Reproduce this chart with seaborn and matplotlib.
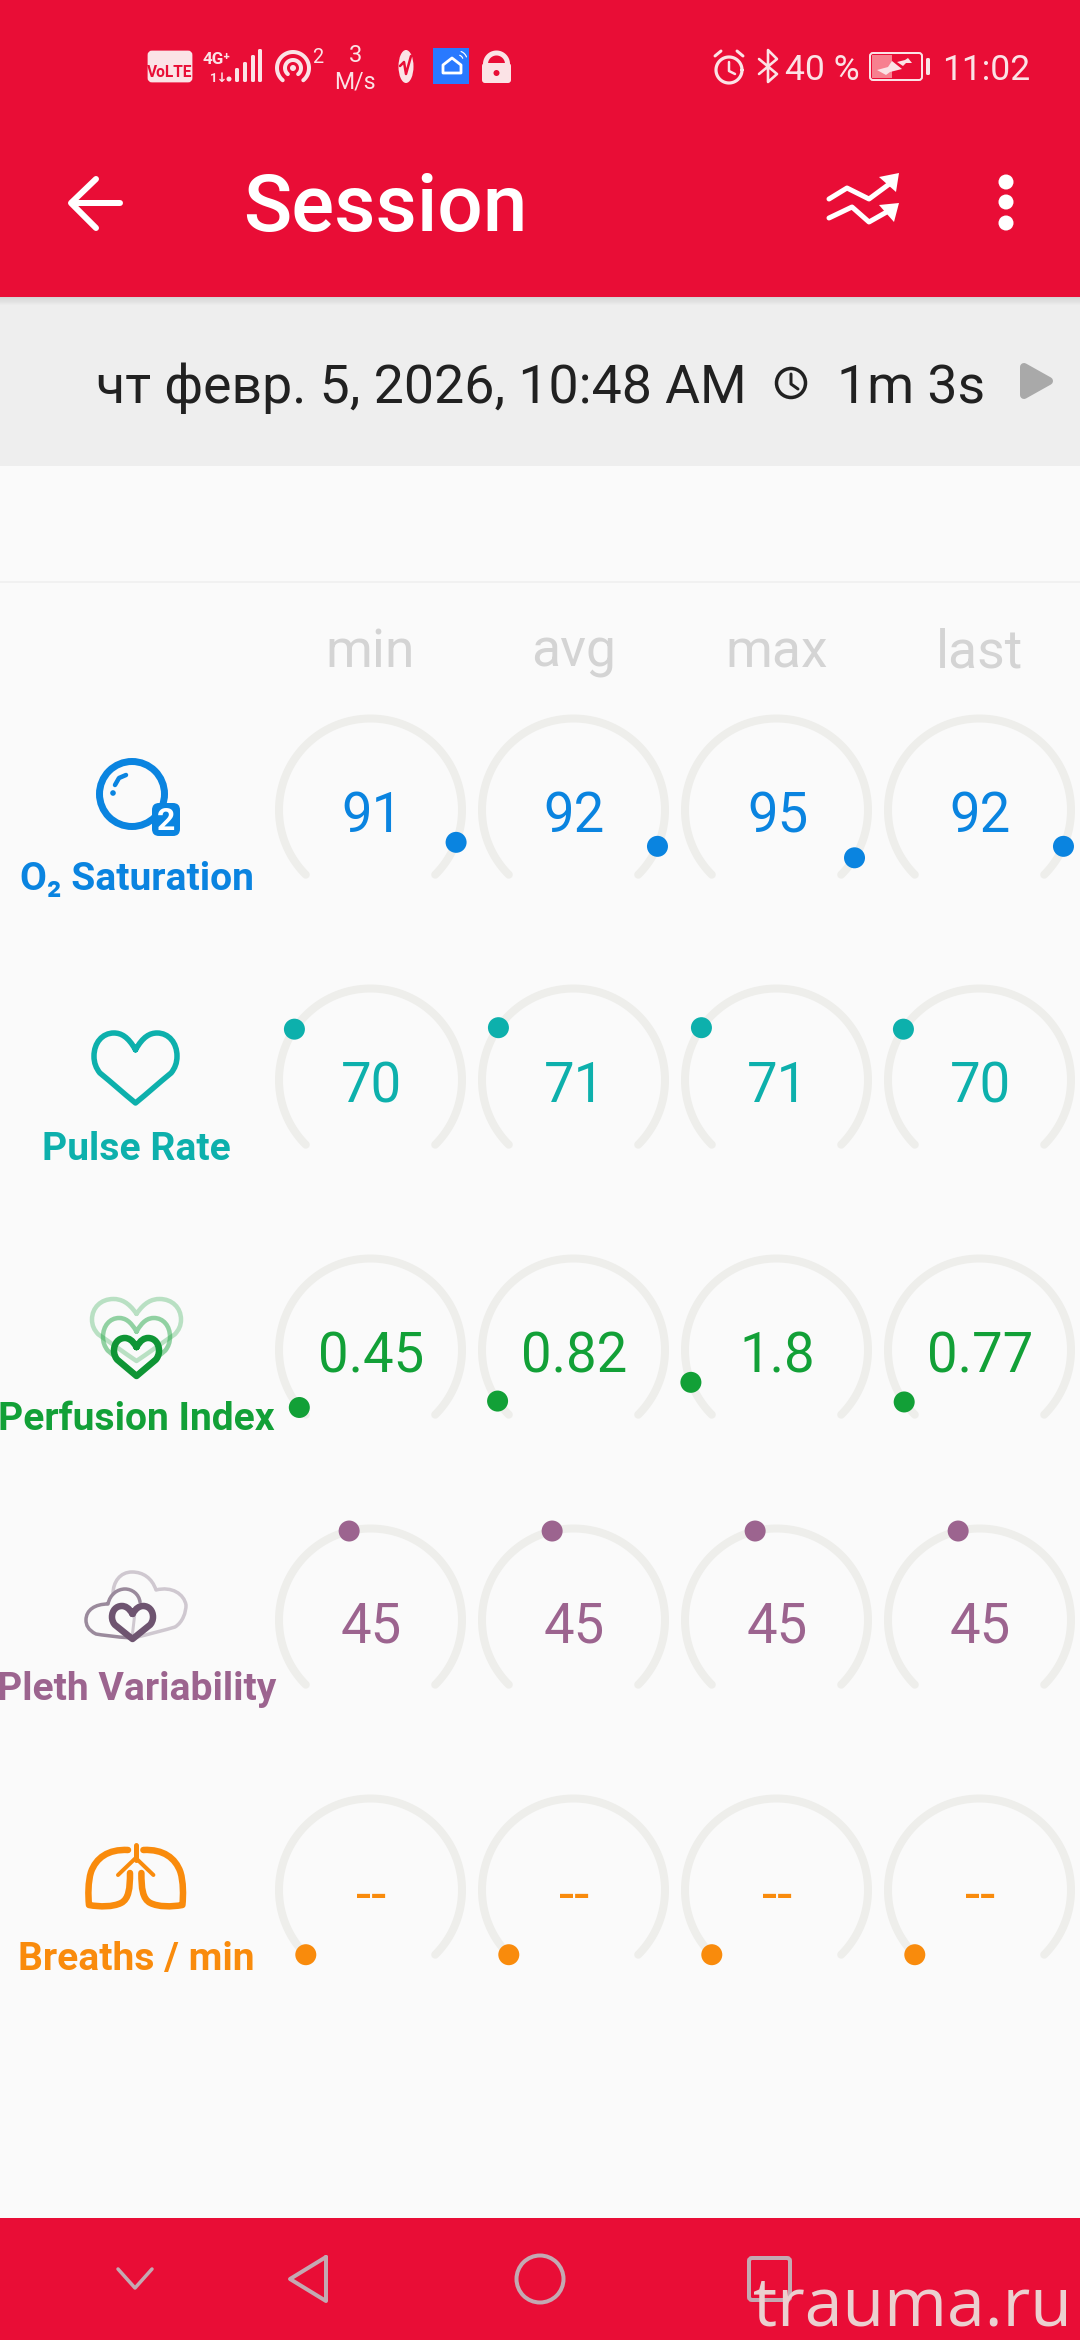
import numpy as np
import pandas as pd
import matplotlib
matplotlib.use("Agg")
import matplotlib.pyplot as plt
import seaborn as sns
from matplotlib.path import Path
from matplotlib.patches import PathPatch, Rectangle, Circle, FancyBboxPatch, Polygon, Ellipse

# values
stats = ["min", "avg", "max", "last"]
metrics = ["O\u2082 Saturation", "Pulse Rate", "Perfusion Index", "Pleth Variability", "Breaths / min"]
o2_values = [91, 92, 95, 92]
pulse_values = [70, 71, 71, 70]
perfusion_values = [0.45, 0.82, 1.8, 0.77]
pleth_values = [45, 45, 45, 45]
breath_values = [np.nan, np.nan, np.nan, np.nan]
scale_max = [100, 240, 20, 100, 60]
metric_colors = ["#0A84E0", "#0DB0AC", "#12A037", "#9C648F", "#F98B0C"]

RED = "#E90D36"
PALE = "#FBE3E6"

sns.set_theme(style="white")
plt.rcParams["font.family"] = ["Roboto", "DejaVu Sans"]

fig = plt.figure(figsize=(10.8, 23.4), dpi=100, facecolor="#FAFAFA")
ax = fig.add_axes([0, 0, 1, 1])
ax.axis("off")

# gauge layout in pixels
col_x = [370.5, 573.5, 776.5, 979.5]
row_y = [810, 1080, 1350, 1620, 1890]
radius = 91.5


def px(size):
    return size * 0.72


def angle_for(frac):
    # 270 degree dial, starts lower left and runs clockwise
    return np.deg2rad(225 - 270 * frac)


def shape(verts, color, lw=5, alpha=1, z=5, fill=False):
    codes = [Path.MOVETO] + [Path.CURVE4] * (len(verts) - 1)
    ax.add_patch(PathPatch(Path(verts, codes), fc=color if fill else "none", ec=color, lw=px(lw),
                           alpha=alpha, zorder=z, capstyle="round", joinstyle="round"))


def line(pts, color, lw=5, alpha=1, z=5):
    pts = np.array(pts)
    ax.plot(pts[:, 0], pts[:, 1], color=color, lw=px(lw), alpha=alpha, zorder=z,
            solid_capstyle="round", solid_joinstyle="round")


def ring(cx, cy, r, start, end, color, lw, z=5):
    # angles in degrees, counted the usual way on screen
    a = np.deg2rad(np.linspace(start, end, 60))
    line(np.column_stack([cx + r * np.cos(a), cy - r * np.sin(a)]), color, lw, z=z)


def heart(cx, top, w, h, color, lw=5, alpha=1, z=5):
    half = [(0, .24), (-.18, .05), (-.35, 0), (-.52, 0), (-.8, 0), (-1, .14), (-1, .33),
            (-1, .43), (-.95, .5), (-.86, .57), (-.57, .71), (-.29, .86), (0, 1)]
    right = [(-x, y) for x, y in half[::-1]][1:]
    verts = [(cx + x * w / 2, top + y * h) for x, y in half + right]
    shape(verts, color, lw, alpha, z)


# screen blocks
ax.add_patch(Rectangle((0, 0), 1080, 297, fc=RED, ec="none", zorder=1))
ax.add_patch(Rectangle((0, 297), 1080, 169, fc="#EEEEEE", ec="none", zorder=1))
for i in range(8):
    ax.add_patch(Rectangle((0, 297 + i), 1080, 1, fc="#000000", alpha=0.10 * (1 - i / 8), ec="none", zorder=2))
ax.add_patch(Rectangle((0, 581), 1080, 2, fc="#F1F1F1", ec="none", zorder=1))
ax.add_patch(Rectangle((0, 2218), 1080, 122, fc=RED, ec="none", zorder=1))

# status bar, left side
ax.add_patch(FancyBboxPatch((149, 52), 42, 29, boxstyle="round,pad=0,rounding_size=3", fc=PALE, ec=PALE, lw=2, zorder=3))
ax.text(170, 72.5, "VoLTE", color=RED, fontsize=px(15.5), fontweight="bold", ha="center", va="center", zorder=4)
ax.text(203, 64, "4G\u207a", color=PALE, fontsize=px(17), fontweight="bold", ha="left", va="baseline", zorder=4)
ax.text(210, 82, "1\u2193", color=PALE, fontsize=px(13), fontweight="bold", ha="left", va="baseline", zorder=4)
ax.add_patch(Circle((229, 79), 2.5, fc=PALE, ec="none", zorder=4))
for bar_x, bar_top in zip([237, 245, 253, 260], [68, 62, 55, 49]):
    ax.add_patch(FancyBboxPatch((bar_x - 2, bar_top), 4, 82 - bar_top, boxstyle="round,pad=0,rounding_size=1.5",
                                fc=PALE, ec="none", zorder=4))
ring(293, 68, 16, 230, -50, PALE, 4, z=4)
ring(293, 68, 8, 230, -50, PALE, 4, z=4)
ax.add_patch(Circle((293, 68), 3, fc=PALE, ec="none", zorder=4))
ax.text(318, 63, "2", color=PALE, fontsize=px(20), ha="center", va="baseline", zorder=4)
ax.text(355, 62, "3", color=PALE, fontsize=px(23.5), ha="center", va="baseline", zorder=4)
ax.text(355, 89, "M/s", color=PALE, fontsize=px(23), ha="center", va="baseline", zorder=4)
ax.add_patch(Ellipse((406, 66.5), 15, 33, fc=PALE, ec="none", zorder=4))
line([(400, 66), (404, 62), (406, 74), (411, 56)], RED, 2.5, z=5)
ax.add_patch(Rectangle((433, 48), 36, 36, fc="#2979FF", ec="none", zorder=4))
ax.add_patch(Polygon([(443, 73), (443, 65), (452, 58), (461, 65), (461, 73)], closed=True, fc="#2979FF", ec="white",
                     lw=px(2.8), joinstyle="round", zorder=5))
ring(458, 60, 5, 20, 70, "white", 1.2, z=5)
ring(458, 60, 9, 20, 70, "white", 1.2, z=5)
ax.add_patch(FancyBboxPatch((482, 63), 29, 20, boxstyle="round,pad=0,rounding_size=3", fc=PALE, ec="none", zorder=4))
ring(496.5, 64, 11, 0, 180, PALE, 5, z=4)
ax.add_patch(Circle((496.5, 73), 3, fc=RED, ec="none", zorder=5))

# status bar, right side
ring(729, 70, 13, 0, 360, PALE, 3.2, z=4)
line([(729, 62), (729, 71), (735, 74)], PALE, 2.5)
line([(715, 56), (721, 51)], PALE, 3)
line([(743, 56), (737, 51)], PALE, 3)
line([(759, 59), (777, 74), (768, 82), (768, 50), (777, 59), (759, 74)], PALE, 2.6)
ax.text(785, 80, "40 %", color=PALE, fontsize=px(35.5), ha="left", va="baseline", zorder=4)
ax.add_patch(FancyBboxPatch((870, 53), 52, 27, boxstyle="round,pad=0,rounding_size=3", fc="none", ec=PALE, lw=px(2), zorder=4))
ax.add_patch(Rectangle((872, 55), 20, 23, fc="#F7808F", ec="none", zorder=4))
ax.add_patch(Polygon([(877, 70), (888, 67), (892, 61), (902, 69), (890, 72), (886, 75)], closed=True, fc=PALE, ec="none", zorder=5))
ax.add_patch(Polygon([(897, 62), (905, 60), (908, 58), (912, 63), (906, 63), (903, 66)], closed=True, fc=PALE, ec="none", zorder=5))
ax.add_patch(FancyBboxPatch((926, 58), 4, 17, boxstyle="round,pad=0,rounding_size=1.5", fc=PALE, ec="none", zorder=4))
ax.text(942, 80, "11:02", color=PALE, fontsize=px(35.5), ha="left", va="baseline", zorder=4)

# toolbar
line([(120, 203), (72, 203)], "white", 6)
line([(96, 179), (71, 203), (96, 228)], "white", 6)
ax.text(243, 231, "Session", color="white", fontsize=px(80), fontweight="medium", ha="left", va="baseline", zorder=4)
line([(829, 199), (847, 188), (869, 199), (892, 182)], "white", 5)
ax.add_patch(Polygon([(899, 173), (879, 177), (896, 192)], closed=True, fc="white", ec="none", zorder=5))
line([(829, 218), (852, 207), (869, 222), (892, 209)], "white", 5)
ax.add_patch(Polygon([(899, 203), (879, 205), (894, 222)], closed=True, fc="white", ec="none", zorder=5))
for dot_y in [182, 202, 223]:
    ax.add_patch(Circle((1006, dot_y), 7.5, fc="white", ec="none", zorder=5))

# session line
ax.text(96, 403, "\u0447\u0442 \u0444\u0435\u0432\u0440. 5, 2026, 10:48 AM", color="#212121", fontsize=px(53.6), ha="left", va="baseline", zorder=4)
ax.add_patch(Circle((791, 383), 14.5, fc="none", ec="#212121", lw=px(3.5), zorder=4))
line([(791, 374), (791, 384), (798, 389)], "#212121", 3)
ax.text(837, 403, "1m 3s", color="#212121", fontsize=px(53.6), ha="left", va="baseline", zorder=4)
ax.add_patch(Polygon([(1024, 367), (1049, 381), (1024, 395)], closed=True, fc="#A9A9A9", ec="#A9A9A9", lw=px(8), joinstyle="round", zorder=4))

# column headers
for x, stat in zip(col_x, stats):
    ax.text(x, 667, stat, color="#D4D4D4", fontsize=px(53.5), ha="center", va="baseline", zorder=4)

# dial tracks
sweep = np.linspace(0, 1, 120)
for y0 in row_y:
    for x0 in col_x:
        sns.lineplot(x=x0 + radius * np.cos(angle_for(sweep)), y=y0 - radius * np.sin(angle_for(sweep)),
                     sort=False, estimator=None, color="#EEEEEB", lw=px(8), solid_capstyle="round", ax=ax, zorder=3)

# value dots go through one table
value_rows = [o2_values, pulse_values, perfusion_values, pleth_values, breath_values]
records = []
for m, (name, values, top) in enumerate(zip(metrics, value_rows, scale_max)):
    for s, value in enumerate(values):
        frac = 0 if np.isnan(value) else value / top
        records.append({"metric": name, "value": value,
                        "px": col_x[s] + radius * np.cos(angle_for(frac)),
                        "py": row_y[m] - radius * np.sin(angle_for(frac))})
df = pd.DataFrame(records)
sns.scatterplot(data=df, x="px", y="py", hue="metric", hue_order=metrics, palette=metric_colors,
                s=px(21) ** 2, linewidth=0, legend=False, ax=ax, zorder=6)

for m, (name, values, color) in enumerate(zip(metrics, value_rows, metric_colors)):
    for s, value in enumerate(values):
        label = "--" if np.isnan(value) else f"{value:g}"
        ax.text(col_x[s] + 1, row_y[m] + 22.5, label, color=color, fontsize=px(54.5), ha="center", va="baseline", zorder=7)
    ax.text(136.5, row_y[m] + 80, name, color=color, fontsize=px(39), fontweight="bold", ha="center", va="baseline", zorder=7)

# row icons
blue, teal, green, plum, orange = metric_colors
ax.add_patch(Circle((132, 794), 32.5, fc="none", ec=blue, lw=px(7), zorder=5))
line([(115, 785), (119, 778), (126, 775)], blue, 4.5)
ax.add_patch(Circle((113, 793), 2.8, fc=blue, ec="none", zorder=5))
ax.add_patch(FancyBboxPatch((152, 803), 28, 33, boxstyle="round,pad=0,rounding_size=7", fc=blue, ec="none", zorder=6))
ax.text(166, 830, "2", color="white", fontsize=px(32), fontweight="bold", ha="center", va="baseline", zorder=7)

heart(135.5, 1033, 83, 70, teal, 5.5)

heart(136.5, 1299, 89, 62, green, 4.5, alpha=0.28)
heart(136.5, 1318, 67, 57, green, 4.5, alpha=0.45)
heart(136.5, 1338, 45, 38, "#0F9535", 6.5)

shape([(133, 1638), (150, 1634), (165, 1630), (175, 1627), (183, 1622), (186, 1612), (186, 1605),
       (184, 1594), (172, 1586), (156, 1590), (152, 1578), (143, 1572), (132, 1572),
       (120, 1572), (113, 1582), (113, 1594)], "#CFC8D0", 3.5)
line([(135, 1612), (132, 1638)], "#CFC8D0", 3)
shape([(133, 1638), (115, 1637), (102, 1635), (96, 1634), (88, 1630), (86, 1625), (86, 1620),
       (86, 1610), (95, 1604), (108, 1604), (110, 1594), (118, 1589), (125, 1589),
       (132, 1589), (139, 1594), (140, 1602)], "#9A8A9C", 3.5)
heart(132.5, 1606, 41, 33, "#6E5470", 6.5, z=6)

lobe = [(128, 1850), (108, 1849), (96, 1858), (91, 1872), (88, 1882), (88, 1895), (89, 1905),
        (100, 1907), (113, 1907), (121, 1903), (129, 1899), (130, 1888), (130, 1873)]
shape(lobe, orange, 6.5)
shape([(271.4 - x, y) for x, y in lobe], orange, 6.5)
line([(135.7, 1845), (135.7, 1860)], orange, 5)
line([(118, 1875), (135.7, 1858), (153.4, 1875)], orange, 4)

# nav bar
nav = "#C4A9B2"
line([(118, 2269), (135, 2288), (152, 2269)], nav, 3.5)
line([(326, 2257), (326, 2301), (290, 2279), (326, 2257)], nav, 4)
ax.add_patch(Circle((540, 2279), 23.5, fc="none", ec=nav, lw=px(4), zorder=5))
ax.add_patch(FancyBboxPatch((749, 2258), 41, 42, boxstyle="round,pad=0,rounding_size=3", fc="none", ec=nav, lw=px(4), zorder=5))
ax.text(753, 2325, "trauma.ru", color="#EBD0D0", fontsize=px(68), family=["Open Sans", "DejaVu Sans"], ha="left", va="baseline", zorder=8)

ax.set_xlim(0, 1080)
ax.set_ylim(2340, 0)
ax.set_xlabel("")
ax.set_ylabel("")

fig.savefig("out.png", dpi=100, facecolor=fig.get_facecolor())
